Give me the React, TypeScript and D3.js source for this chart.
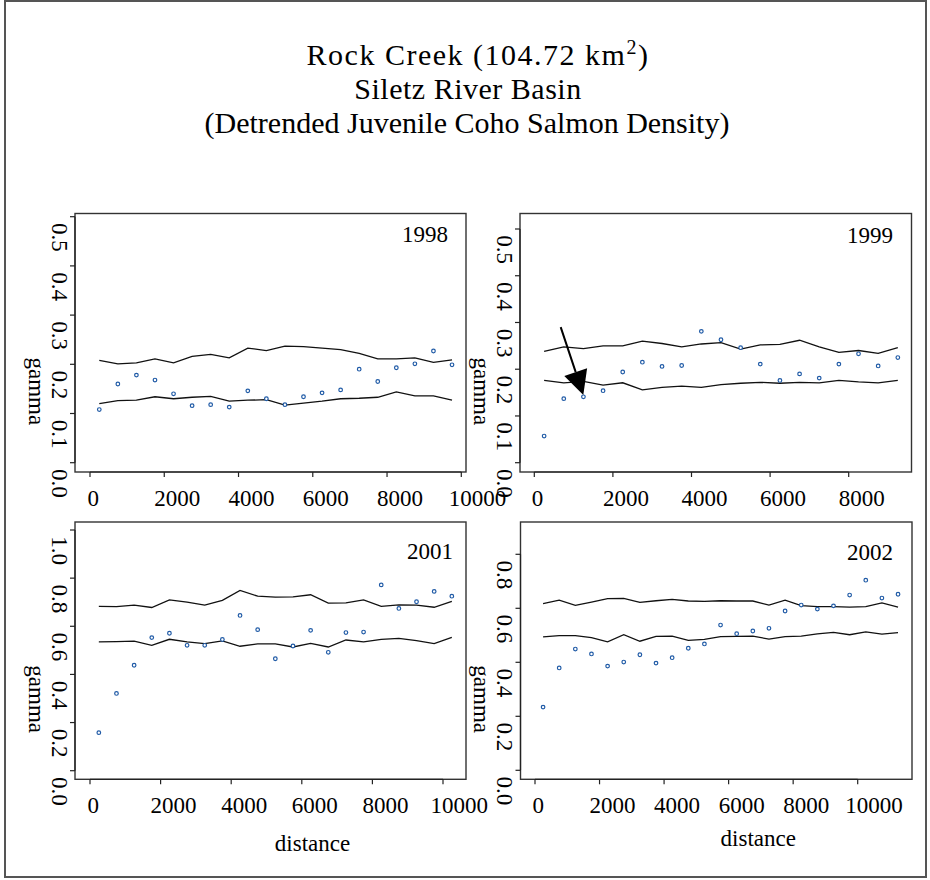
import React, { useEffect, useRef } from 'react'
import * as d3 from 'd3'

// lag distances (m) and semivariance values
const lag1998 = [250, 750, 1250, 1750, 2250, 2750, 3250, 3750, 4250, 4750, 5250, 5750, 6250, 6750, 7250, 7750, 8250, 8750, 9250, 9750]
const gamma1998 = [0.108, 0.16, 0.178, 0.168, 0.14, 0.116, 0.118, 0.113, 0.146, 0.13, 0.118, 0.134, 0.142, 0.148, 0.19, 0.165, 0.193, 0.201, 0.227, 0.199]
const upper1998 = [0.208, 0.201, 0.203, 0.211, 0.203, 0.216, 0.22, 0.213, 0.233, 0.228, 0.237, 0.236, 0.233, 0.23, 0.222, 0.211, 0.211, 0.213, 0.204, 0.209]
const lower1998 = [0.12, 0.126, 0.127, 0.134, 0.13, 0.133, 0.135, 0.125, 0.127, 0.128, 0.117, 0.121, 0.125, 0.13, 0.131, 0.133, 0.144, 0.136, 0.136, 0.127]

const lag1999 = [250, 750, 1250, 1750, 2250, 2750, 3250, 3750, 4250, 4750, 5250, 5750, 6250, 6750, 7250, 7750, 8250, 8750, 9250]
const gamma1999 = [0.057, 0.137, 0.141, 0.154, 0.194, 0.215, 0.206, 0.208, 0.281, 0.263, 0.246, 0.211, 0.176, 0.19, 0.181, 0.211, 0.233, 0.207, 0.225]
const upper1999 = [0.238, 0.248, 0.244, 0.25, 0.25, 0.26, 0.255, 0.248, 0.254, 0.257, 0.243, 0.252, 0.253, 0.262, 0.248, 0.236, 0.24, 0.234, 0.246]
const lower1999 = [0.176, 0.171, 0.174, 0.166, 0.171, 0.156, 0.161, 0.164, 0.161, 0.167, 0.17, 0.172, 0.17, 0.172, 0.171, 0.176, 0.173, 0.171, 0.176]

const lag2001 = [250, 750, 1250, 1750, 2250, 2750, 3250, 3750, 4250, 4750, 5250, 5750, 6250, 6750, 7250, 7750, 8250, 8750, 9250, 9750, 10250]
const gamma2001 = [0.158, 0.321, 0.438, 0.553, 0.571, 0.521, 0.521, 0.545, 0.645, 0.586, 0.465, 0.518, 0.583, 0.492, 0.574, 0.576, 0.772, 0.674, 0.702, 0.745, 0.725]
const upper2001 = [0.683, 0.682, 0.688, 0.678, 0.71, 0.7, 0.688, 0.708, 0.749, 0.725, 0.721, 0.722, 0.731, 0.696, 0.697, 0.71, 0.683, 0.689, 0.688, 0.679, 0.703]
const lower2001 = [0.535, 0.536, 0.538, 0.521, 0.546, 0.535, 0.528, 0.539, 0.517, 0.527, 0.527, 0.514, 0.529, 0.514, 0.543, 0.535, 0.546, 0.55, 0.54, 0.528, 0.554]

const lag2002 = [250, 750, 1250, 1750, 2250, 2750, 3250, 3750, 4250, 4750, 5250, 5750, 6250, 6750, 7250, 7750, 8250, 8750, 9250, 9750, 10250, 10750, 11250]
const gamma2002 = [0.234, 0.379, 0.449, 0.431, 0.386, 0.401, 0.428, 0.397, 0.417, 0.452, 0.468, 0.538, 0.506, 0.516, 0.526, 0.59, 0.612, 0.597, 0.609, 0.649, 0.704, 0.638, 0.652]
const upper2002 = [0.617, 0.63, 0.611, 0.623, 0.636, 0.637, 0.622, 0.628, 0.633, 0.627, 0.626, 0.628, 0.627, 0.627, 0.612, 0.63, 0.61, 0.606, 0.606, 0.604, 0.606, 0.62, 0.604]
const lower2002 = [0.494, 0.499, 0.499, 0.491, 0.476, 0.502, 0.478, 0.496, 0.497, 0.481, 0.485, 0.495, 0.496, 0.497, 0.486, 0.495, 0.497, 0.505, 0.511, 0.502, 0.513, 0.504, 0.51]

const xTicks10k = [0, 2000, 4000, 6000, 8000, 10000]
const xTicks8k = [0, 2000, 4000, 6000, 8000]
const yTicksHalf = [0, 0.1, 0.2, 0.3, 0.4, 0.5]
const yTicksOne = [0, 0.2, 0.4, 0.6, 0.8, 1.0]
const yTicksEight = [0, 0.2, 0.4, 0.6, 0.8]

const titleLines = ['Rock Creek (104.72 km', 'Siletz River Basin', '(Detrended Juvenile Coho Salmon Density)']

// arrow in the 1999 panel: [distance, gamma] from -> to
const arrow1999 = { from: [672, 0.29], to: [1247, 0.145] }

const FONT = '"Liberation Serif", "Times New Roman", serif'

type Panel = {
     year: string
     lag: number[]
     gamma: number[]
     upper: number[]
     lower: number[]
     xTicks: number[]
     yTicks: number[]
     box: [number, number, number, number]
     xr: [number, number]
     yr: [number, number]
     yearPos: [number, number]
     distY?: number
}

const panels: Panel[] = [
     { year: '1998', lag: lag1998, gamma: gamma1998, upper: upper1998, lower: lower1998, xTicks: xTicks10k, yTicks: yTicksHalf,
          box: [75, 466, 213.5, 472], xr: [90, 461.3], yr: [462.7, 216.7], yearPos: [448, 241.7] },
     { year: '1999', lag: lag1999, gamma: gamma1999, upper: upper1999, lower: lower1999, xTicks: xTicks8k, yTicks: yTicksHalf,
          box: [520, 911.5, 213.5, 472], xr: [534.3, 848.7], yr: [462.7, 229], yearPos: [893, 243] },
     { year: '2001', lag: lag2001, gamma: gamma2001, upper: upper2001, lower: lower2001, xTicks: xTicks10k, yTicks: yTicksOne,
          box: [75, 466, 522, 779.3], xr: [90, 443], yr: [770.7, 530], yearPos: [453, 559], distY: 851 },
     { year: '2002', lag: lag2002, gamma: gamma2002, upper: upper2002, lower: lower2002, xTicks: xTicks10k, yTicks: yTicksEight,
          box: [520.5, 912, 522, 779.3], xr: [535, 857.7], yr: [770.3, 554.3], yearPos: [893, 560], distY: 846 },
]

const App = () => {
     const svgRef = useRef<SVGSVGElement | null>(null)

     useEffect(() => {
          const svg = d3.select(svgRef.current)
          svg.selectAll('*').remove()

          const width = 930,
               height = 880,
               fs = 23

          svg.append('rect')
               .attr('width', width)
               .attr('height', height)
               .attr('fill', '#fff')

          svg.append('rect')
               .attr('x', 5)
               .attr('y', 1)
               .attr('width', 921)
               .attr('height', 876)
               .attr('fill', 'none')
               .attr('stroke', '#555')
               .attr('stroke-width', 2)

          // title
          const title = svg.append('g')
               .attr('font-family', FONT)
               .attr('font-size', 30)
               .attr('text-anchor', 'middle')
          const t1 = title.append('text')
               .attr('x', 478)
               .attr('y', 65)
               .attr('letter-spacing', 1.5)
          t1.append('tspan').text(titleLines[0])
          t1.append('tspan').attr('font-size', 20).attr('dy', -11).text('2')
          t1.append('tspan').attr('dy', 11).text(')')
          title.append('text').attr('x', 468).attr('y', 99).attr('letter-spacing', 0.5).text(titleLines[1])
          title.append('text').attr('x', 467).attr('y', 133).text(titleLines[2])

          panels.forEach((p) => {
               const [x0, x1, y0, y1] = p.box
               const xMax = p.xTicks[p.xTicks.length - 1]
               const yMax = p.yTicks[p.yTicks.length - 1]
               const x = d3.scaleLinear().domain([0, xMax]).range(p.xr)
               const y = d3.scaleLinear().domain([0, yMax]).range(p.yr)

               const g = svg.append('g')
                    .attr('font-family', FONT)
                    .attr('font-size', fs)

               // box
               g.append('rect')
                    .attr('x', x0)
                    .attr('y', y0)
                    .attr('width', x1 - x0)
                    .attr('height', y1 - y0)
                    .attr('fill', 'none')
                    .attr('stroke', '#333')
                    .attr('stroke-width', 1.4)

               // x axis
               g.append('line')
                    .attr('x1', x(0)).attr('x2', x(xMax))
                    .attr('y1', y1).attr('y2', y1)
                    .attr('stroke', '#222').attr('stroke-width', 1.2)
               p.xTicks.forEach((t) => {
                    g.append('line')
                         .attr('x1', x(t)).attr('x2', x(t))
                         .attr('y1', y1).attr('y2', y1 + 5)
                         .attr('stroke', '#222').attr('stroke-width', 1.2)
                    const lbl = g.append('text')
                         .attr('y', y1 + 34)
                         .attr('text-anchor', 'start')
                         .text(String(t))
                    const w = (lbl.node() as SVGTextElement).getComputedTextLength()
                    lbl.attr('x', x(t) - 0.217 * w)
               })

               // y axis
               g.append('line')
                    .attr('x1', x0).attr('x2', x0)
                    .attr('y1', y(0)).attr('y2', y(yMax))
                    .attr('stroke', '#222').attr('stroke-width', 1.2)
               p.yTicks.forEach((t) => {
                    g.append('line')
                         .attr('x1', x0 - 5).attr('x2', x0)
                         .attr('y1', y(t)).attr('y2', y(t))
                         .attr('stroke', '#222').attr('stroke-width', 1.2)
                    const lbl = g.append('text')
                         .attr('text-anchor', 'start')
                         .attr('dominant-baseline', 'central')
                         .text(t.toFixed(1))
                    const w = (lbl.node() as SVGTextElement).getComputedTextLength()
                    const cx = x0 - 16,
                         cy = y(t) + 0.217 * w
                    lbl.attr('transform', `translate(${cx},${cy}) rotate(90)`)
               })

               // gamma label
               const gl = g.append('text')
                    .attr('text-anchor', 'start')
                    .attr('dominant-baseline', 'central')
                    .text('gamma')
               const gw = (gl.node() as SVGTextElement).getComputedTextLength()
               gl.attr('transform', `translate(${x0 - 39},${(y0 + y1) / 2 + 0.217 * gw}) rotate(90)`)

               if (p.distY) {
                    g.append('text')
                         .attr('x', (x0 + x1) / 2 + 42)
                         .attr('y', p.distY)
                         .attr('text-anchor', 'middle')
                         .text('distance')
               }

               // year
               g.append('text')
                    .attr('x', p.yearPos[0])
                    .attr('y', p.yearPos[1])
                    .attr('text-anchor', 'end')
                    .text(p.year)

               // envelopes
               const line = d3.line<number>()
                    .x((_, i) => x(p.lag[i]))
                    .y((d) => y(d))
               ;[p.upper, p.lower].forEach((env) => {
                    g.append('path')
                         .attr('d', line(env))
                         .attr('fill', 'none')
                         .attr('stroke', '#111')
                         .attr('stroke-width', 1.3)
               })

               // points
               g.append('g')
                    .selectAll('circle')
                    .data(p.gamma)
                    .enter()
                    .append('circle')
                    .attr('cx', (_, i) => x(p.lag[i]))
                    .attr('cy', (d) => y(d))
                    .attr('r', 1.8)
                    .attr('fill', '#fff')
                    .attr('stroke', '#1f5aa6')
                    .attr('stroke-width', 1.2)

               if (p.year === '1999') {
                    const sx = x(arrow1999.from[0]),
                         sy = y(arrow1999.from[1])
                    const tx = x(arrow1999.to[0]),
                         ty = y(arrow1999.to[1])
                    const len = Math.hypot(tx - sx, ty - sy)
                    const ux = (tx - sx) / len,
                         uy = (ty - sy) / len
                    const headLen = 24,
                         headHalf = 12
                    const bx = tx - ux * headLen,
                         by = ty - uy * headLen
                    g.append('line')
                         .attr('x1', sx).attr('y1', sy)
                         .attr('x2', bx).attr('y2', by)
                         .attr('stroke', '#000')
                         .attr('stroke-width', 2)
                    g.append('path')
                         .attr('d', `M${tx},${ty}L${bx - uy * headHalf},${by + ux * headHalf}L${bx + uy * headHalf},${by - ux * headHalf}Z`)
                         .attr('fill', '#000')
               }
          })
     }, [])

     return (
          <svg
               ref={svgRef}
               width={930}
               height={880}
               style={{ position: 'absolute', left: 0, top: 0, display: 'block' }}
          ></svg>
     )
}

export default App
